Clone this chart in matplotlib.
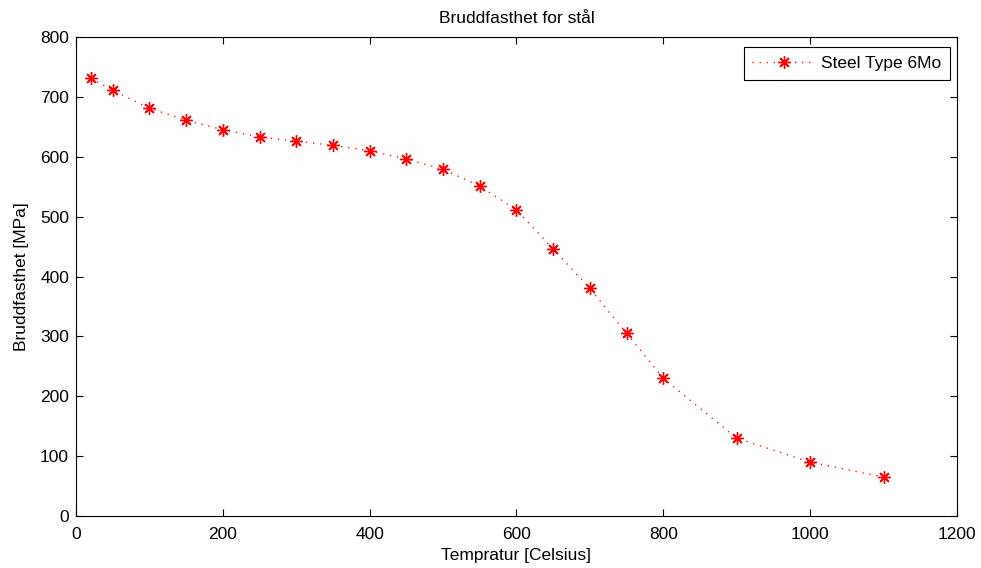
import matplotlib
matplotlib.use("Agg")
import matplotlib.pyplot as plt

# tensile strength of 6Mo steel vs temperature
temp = [20, 50, 100, 150, 200, 250, 300, 350, 400, 450, 500, 550, 600,
        650, 700, 750, 800, 900, 1000, 1100]
strength = [731, 711, 681, 661, 645, 633, 626, 619, 610, 596, 579, 551, 511,
            446, 380, 305, 230, 130, 90, 65]

plt.rcParams["font.family"] = ["Liberation Sans", "DejaVu Sans"]
FS = 12.5

fig = plt.figure(figsize=(9.81, 5.68), dpi=100)
ax = fig.add_axes([0.0775, 0.0915, 0.898, 0.8434])

# matlab-style '*' marker: 8-spoke asterisk, sparse dotted line
ax.plot(temp, strength, color="red", lw=1.0, ls=(0, (0.9, 4.2)),
        marker=(8, 2, 0), ms=9, mew=1.0, mec="red", mfc="red",
        label="Steel Type 6Mo")

ax.set_xlim(0, 1200)
ax.set_ylim(0, 800)
ax.set_xticks(range(0, 1201, 200))
ax.set_yticks(range(0, 801, 100))
ax.tick_params(direction="in", top=True, right=True, length=5, width=0.8,
               labelsize=FS, colors="black", pad=5)
ax.tick_params(axis="x", pad=8)
for s in ax.spines.values():
    s.set_linewidth(0.8)

ax.set_title("Bruddfasthet for stål", fontsize=FS, pad=10)
ax.set_xlabel("Tempratur [Celsius]", fontsize=FS, labelpad=4)
ax.set_ylabel("Bruddfasthet [MPa]", fontsize=FS, labelpad=8)

leg = ax.legend(loc="upper right", fancybox=False, framealpha=1,
                edgecolor="black", fontsize=FS, handlelength=3.6,
                handletextpad=0.35, borderpad=0.5, borderaxespad=0,
                bbox_to_anchor=(0.992, 0.979))
leg.get_frame().set_linewidth(0.8)

fig.savefig("out.png", dpi=100)
